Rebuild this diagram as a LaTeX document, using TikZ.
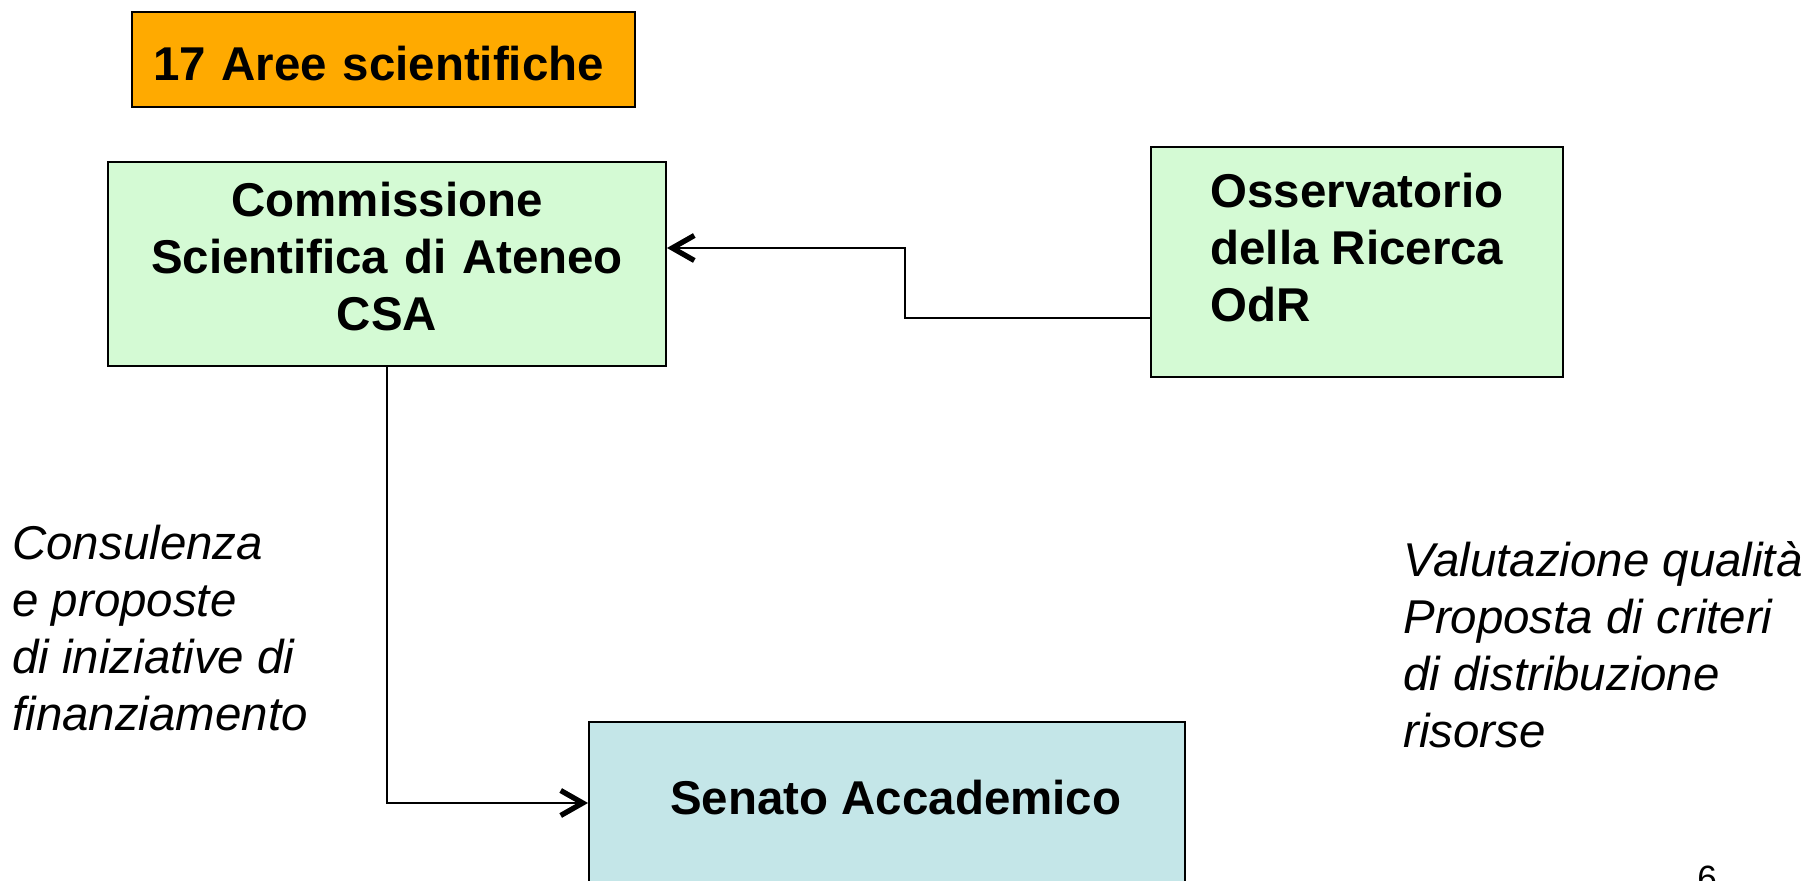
\documentclass[tikz,border=0pt]{standalone}
\usepackage{fontspec}
\setmainfont{Liberation Sans}
\usetikzlibrary{arrows.meta}
\definecolor{arancio}{RGB}{255,170,0}
\definecolor{verdino}{RGB}{212,250,212}
\definecolor{azzurrino}{RGB}{196,230,232}
\begin{document}
\begin{tikzpicture}[
  ente/.style={draw, line width=1.1pt, inner sep=0pt, font=\bfseries\fontsize{27}{32.4}\selectfont},
  nota/.style={inner sep=0pt, anchor=north west, align=left, font=\itshape\fontsize{27}{32.4}\selectfont},
  freccia/.style={line width=1.1pt, -{Straight Barb[length=0.44cm,width=0.5cm,line width=3pt]}}
]
\clip (0,0) rectangle (36.36,-17.62);
\node[ente, fill=arancio, minimum width=10.06cm, minimum height=1.9cm, text width=9.22cm, align=left, text height=0.83cm] (aree) at (7.67,-1.19) {17 Aree scientifiche};
\node[ente, fill=verdino, minimum width=11.16cm, minimum height=4.08cm, text width=11.16cm, align=center, text depth=2.58cm] (csa) at (7.74,-5.28) {Commissione\\Scientifica di Ateneo\\CSA};
\node[ente, fill=verdino, minimum width=8.24cm, minimum height=4.6cm, align=left, text depth=0.58cm] (odr) at (27.14,-5.24) {Osservatorio\\della Ricerca\\OdR};
\node[ente, fill=azzurrino, minimum width=11.92cm, minimum height=3.24cm, text depth=0.22cm] (senato) at (17.74,-16.06) {\hspace*{0.35cm}Senato Accademico};
\coordinate (gomito) at (18.10,-4.96);
\draw[freccia] ([yshift=-1.12cm]odr.west) -| (gomito) -- ([yshift=0.32cm]csa.east);
\draw[freccia] (csa.south) |- (senato.west);
\node[nota] (consulenza) at (0.24,-10.5) {Consulenza\\e proposte\\di iniziative di\\finanziamento};
\node[nota] (valutazione) at (28.06,-10.82) {Valutazione qualità\\Proposta di criteri\\di distribuzione\\risorse};
\node[anchor=base west, inner sep=0pt, font=\fontsize{20}{24}\selectfont] (pagina) at (33.94,-17.80) {6};
\end{tikzpicture}
\end{document}
